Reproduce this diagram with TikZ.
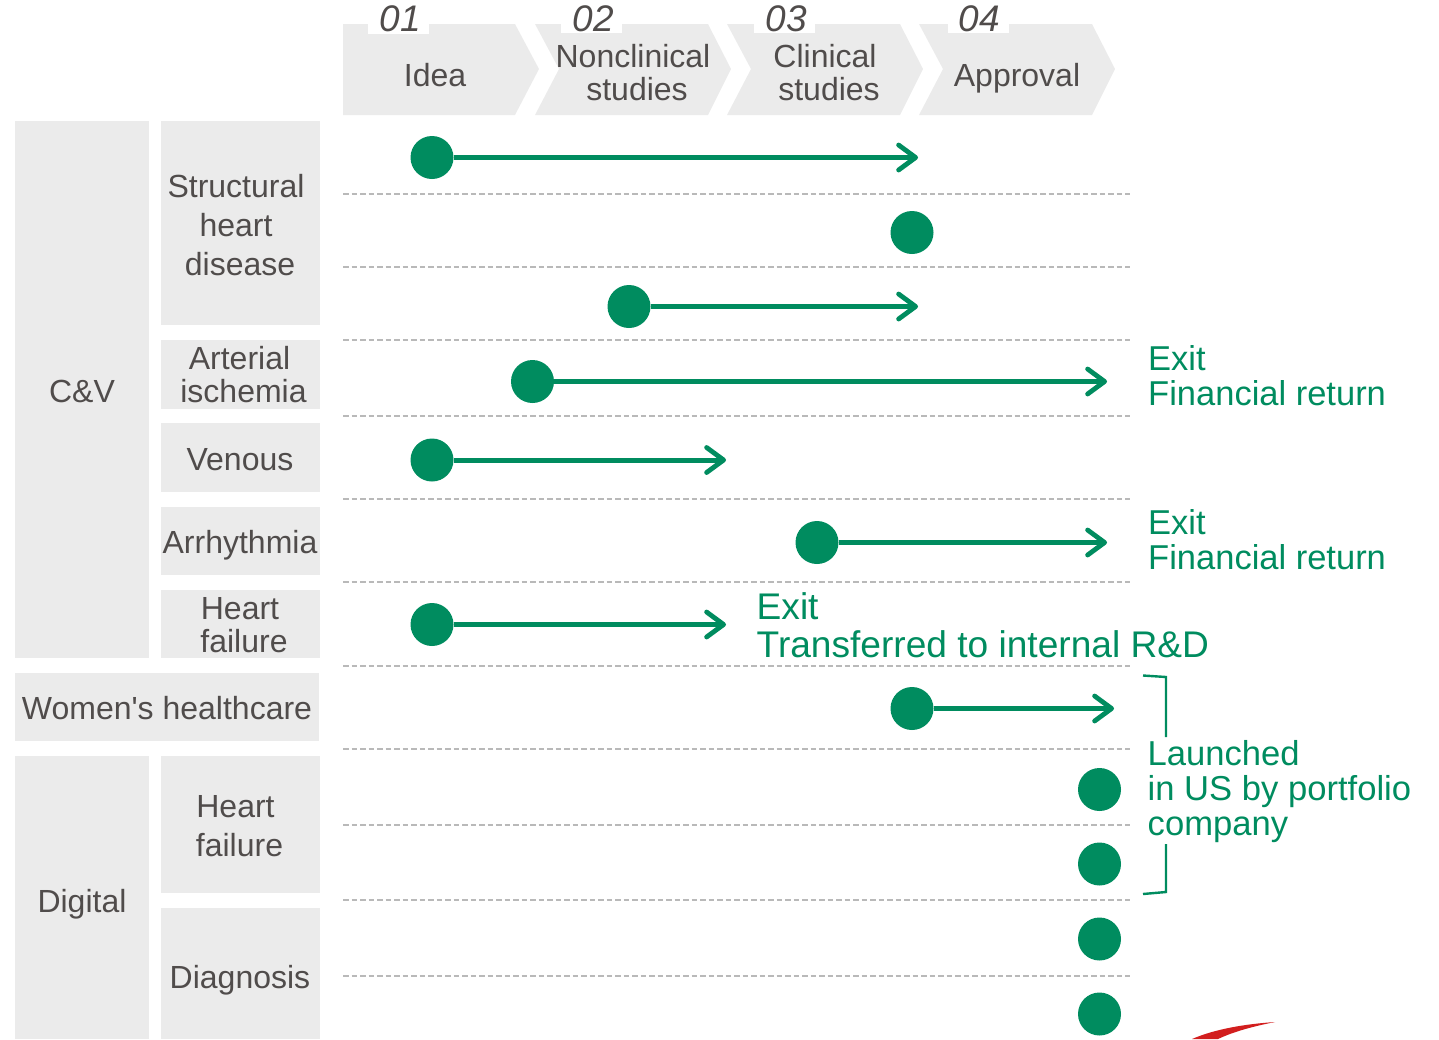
\documentclass[tikz,border=0pt]{standalone}
\usepackage{fontspec}
\setmainfont{Liberation Sans}
\newfontfamily\plainf{Liberation Sans}
\usetikzlibrary{arrows.meta}
\definecolor{grn}{RGB}{0,140,95}
\definecolor{txt}{RGB}{80,76,75}
\definecolor{pale}{RGB}{235,235,235}
\definecolor{dash}{RGB}{185,185,185}
\definecolor{swoosh}{RGB}{210,30,30}
\newcommand{\fs}[2]{\fontsize{#1pt}{#2pt}\selectfont}
\tikzset{
  panel/.style={fill=pale,draw=none},
  lab/.style={text=txt,inner sep=0pt,align=center,font=\fs{32}{33}},
  lab2/.style={text=txt,inner sep=0pt,align=center,font=\fs{32}{39}},
  num/.style={text=txt,inner sep=0pt,anchor=base,font=\fs{37}{37}\itshape},
  note/.style={text=grn,inner sep=0pt,align=left,anchor=north west,font=\fs{34.5}{35.5}},
  dot/.style={circle,fill=grn,draw=none,minimum size=43pt,inner sep=0pt},
  flow/.style={draw=grn,line width=5pt,-{Straight Barb[length=17pt,width=25pt,line width=4.8pt,round]}},
  brace/.style={draw=grn,line width=2.4pt},
  rule/.style={draw=dash,line width=1.3pt,dash pattern=on 5.5pt off 3pt},
  mask/.style={fill=white,draw=none}
}
\begin{document}
\begin{tikzpicture}[x=1pt,y=-1pt]
\useasboundingbox (0,0) rectangle (1439,1039);
% chevrons
\fill[panel] (343,24)--(515,24)--(539,69)--(515,115)--(343,115)--cycle;
\foreach \o in {0,192,384}{
  \fill[panel,xshift=\o pt] (535,24)--(708,24)--(731,69)--(708,115)--(535,115)--(559,69)--cycle;
}
\fill[mask] (368,20) rectangle (429,34);
\fill[mask] (561,20) rectangle (622,33);
\fill[mask] (754,20) rectangle (815,33);
\fill[mask] (948,20) rectangle (1009,33);
\node[num] (n1) at (400,31.5) {01};
\node[num] (n2) at (593.5,31.5) {02};
\node[num] (n3) at (786.5,31.5) {03};
\node[num] (n4) at (979.5,31.5) {04};
\node[lab] (s1) at (435,75) {Idea};
\node[lab] (s2) at (633,72.5) {Nonclinical\\\hspace*{8pt}studies};
\node[lab] (s3) at (825,72.5) {Clinical\\\hspace*{8pt}studies};
\node[lab] (s4) at (1017,78.5) {Approval};
% category panels
\fill[panel] (15,121) rectangle (149,658);
\fill[panel] (161,121) rectangle (320,325);
\fill[panel] (161,340) rectangle (320,409);
\fill[panel] (161,423) rectangle (320,492);
\fill[panel] (161,507) rectangle (320,575);
\fill[panel] (161,590) rectangle (320,658);
\fill[panel] (15,673) rectangle (319,741);
\fill[panel] (15,756) rectangle (149,1039);
\fill[panel] (161,756) rectangle (320,893);
\fill[panel] (161,908) rectangle (320,1039);
\node[lab] (cv) at (82,391) {C\&V};
\node[lab2] (shd) at (236,225) {Structural\\heart\\\hspace*{8pt}disease};
\node[lab] (ai) at (243.5,374.5) {\hspace*{-8pt}Arterial\\ischemia};
\node[lab] (ve) at (240,460) {Venous};
\node[lab] (ar) at (240,545) {Arrhythmia};
\node[lab] (hf) at (244,625) {\hspace*{-8pt}Heart\\failure};
\node[lab] (wh) at (167,708) {\plainf Women's healthcare};
\node[lab] (dg) at (82,904) {Digital};
\node[lab2] (hf2) at (239.5,826) {\hspace*{-8pt}Heart\\failure};
\node[lab] (di) at (240,980) {Diagnosis};
% rules
\foreach \y in {194,267,340,416,499,582,666,749,825,900,976}{
  \draw[rule] (343,\y) -- (1129.5,\y);
}
% dots
\node[dot] (d1) at (432,157.5) {};
\node[dot] (d2) at (912,232.5) {};
\node[dot] (d3) at (629,306.5) {};
\node[dot] (d4) at (532.5,381.5) {};
\node[dot] (d5) at (432,460) {};
\node[dot] (d6) at (817,542.5) {};
\node[dot] (d7) at (432,624.5) {};
\node[dot] (d8) at (912,708.5) {};
\node[dot] (d9) at (1099.5,789.5) {};
\node[dot] (d10) at (1099.5,864) {};
\node[dot] (d11) at (1099.5,939) {};
\node[dot] (d12) at (1099.5,1014) {};
% arrow ends
\coordinate (e1) at (918,157.5);
\coordinate (e3) at (918,306.5);
\coordinate (e4) at (1107,381.5);
\coordinate (e5) at (726,460);
\coordinate (e6) at (1107,542.5);
\coordinate (e7) at (726,624.5);
\coordinate (e8) at (1114,708.5);
\foreach \i in {1,3,4,5,6,7,8}{
  \draw[flow] (d\i) -- (e\i);
}
% notes
\node[note] (x1) at (1148,345) {Exit\\Financial return};
\node[note] (x2) at (1148,509) {Exit\\Financial return};
\node[note,font=\fs{37.1}{38}] (x3) at (756.5,592) {Exit\\Transferred to internal R\&D};
\node[note,font=\fs{34.6}{34.8}] (x4) at (1147.5,740.5) {Launched\\in US by portfolio\\company};
% bracket
\draw[brace] (1143,675.5) -- (1166,677) -- (1166,737);
\draw[brace] (1166,844) -- (1166,892) -- (1143,894);
% swoosh
\fill[swoosh] (1192,1039) .. controls (1215,1029) and (1245,1024) .. (1275,1022) .. controls (1255,1026) and (1235,1031) .. (1218,1039) -- cycle;
\end{tikzpicture}
\end{document}
